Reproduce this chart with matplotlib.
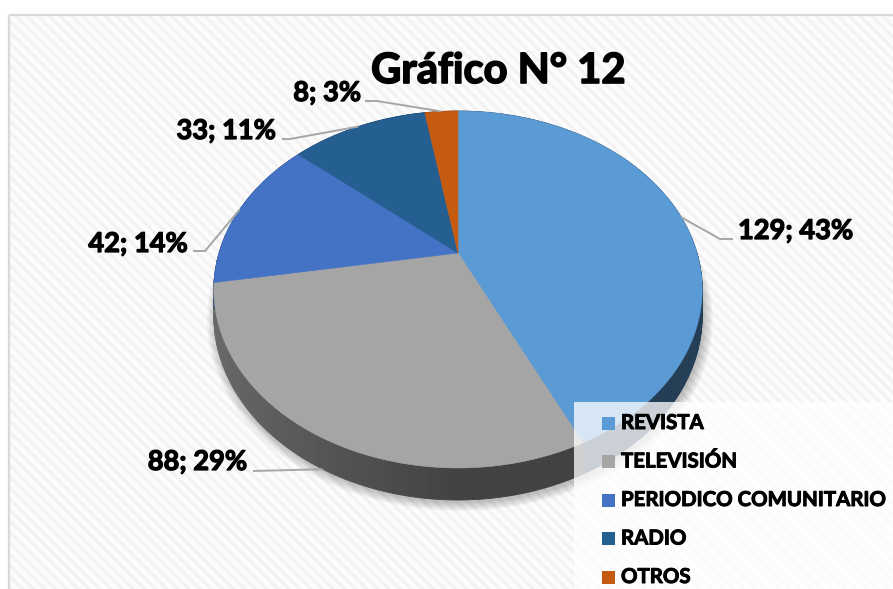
"""
Grafico N 12 - 3D pie of media preference counts, drawn in pixel space.
"""

import matplotlib
matplotlib.use("Agg")
import matplotlib.pyplot as plt
import matplotlib.patheffects as pe
import numpy as np
from matplotlib.patches import Polygon, Rectangle
from matplotlib.colors import to_rgb

# ---- data ------------------------------------------------------------------
CATEGORIES = ["REVISTA", "TELEVISIÓN", "PERIODICO COMUNITARIO", "RADIO", "OTROS"]
COUNTS     = [129, 88, 42, 33, 8]
COLORS     = ["#5b9bd5", "#a5a5a5", "#4472c4", "#255e91", "#c55a11"]
TITLE      = "Gráfico N° 12"

# ---- layout (pixels, y down) ----------------------------------------------
W, H = 893, 589
CX, CY = 458, 253          # projected pie centre
A, B, K = 239, 171, 0.2045  # horizontal radius, depth radius, perspective
THICK = 25.5
# label anchor (x, baseline y, ha), leader elbow, leader end, rim depth
LABEL_POS = [(738, 239, "left"), (247, 470, "right"), (188, 252, "right"),
             (276, 139, "right"), (361, 101, "right")]
ELBOWS = [(720, 239), (253, 471), (205, 251), (290, 139), (377, 101)]
LEAD_END = [(733, 239), (253, 471), (193, 251), (282, 139), (365, 101)]
RIM_DEPTH = [0, 1, 0, 0, 0]

plt.rcParams.update({
    "font.family": ["Lato", "DejaVu Sans"],
    "hatch.linewidth": 2.2,
})

BOLDER = [pe.withStroke(linewidth=0.9, foreground="black")]


def proj(theta, depth=0.0):
    x, z = np.sin(theta), np.cos(theta)
    w = 1 + K * z
    return CX + A * x / w, CY - B * z / w + depth * THICK / w


def shade(color, f):
    r, g, b = to_rgb(color)
    return (r * f, g * f, b * f)


def main():
    fig = plt.figure(figsize=(W / 100, H / 100), dpi=100)
    ax = fig.add_axes([0, 0, 1, 1])
    ax.set_xlim(0, W)
    ax.set_ylim(H, 0)
    ax.axis("off")

    # chart area with diagonal stripes
    ax.add_patch(Rectangle((8.5, 14.5), W, H, facecolor="#fcfcfc",
                           edgecolor="none", zorder=0))
    ax.add_patch(Rectangle((8.5, 14.5), W, H, facecolor="none",
                           edgecolor="#f2f2f2", linewidth=0, hatch="\\\\\\",
                           zorder=0.5))
    ax.add_patch(Rectangle((8.5, 14.5), W, H, facecolor="none",
                           edgecolor="#d9d9d9", linewidth=1.6, zorder=0.6))

    total = sum(COUNTS)
    frac = np.array(COUNTS) / total
    edges = np.concatenate([[0], np.cumsum(frac)]) * 2 * np.pi

    # soft shadow under the pie
    t = np.linspace(0, 2 * np.pi, 300)
    bx, by = proj(t, 1.0)
    for i in range(7):
        s = 1 + 0.006 * i
        ax.add_patch(Polygon(np.column_stack([CX + (bx - CX) * s + 2,
                                              CY + THICK + (by - CY - THICK) * s + 3]),
                             facecolor="black", edgecolor="none", alpha=0.035,
                             zorder=1))

    # side walls
    for i, col in enumerate(COLORS):
        ts = np.linspace(edges[i], edges[i + 1], max(3, int(frac[i] * 360)))
        for a0, a1 in zip(ts[:-1], ts[1:]):
            am = 0.5 * (a0 + a1)
            f = 0.40 + 0.25 * max(0.0, -np.sin(am))
            x0, y0 = proj(a0)
            x1, y1 = proj(a1)
            x2, y2 = proj(a1, 1.0)
            x3, y3 = proj(a0, 1.0)
            c = shade(col, f)
            ax.add_patch(Polygon([(x0, y0), (x1, y1), (x2, y2), (x3, y3)],
                                 facecolor=c, edgecolor=c, linewidth=0.6,
                                 zorder=2))

    # top faces
    for i, col in enumerate(COLORS):
        ts = np.linspace(edges[i], edges[i + 1], max(3, int(frac[i] * 720)))
        xs, ys = proj(ts)
        pts = np.column_stack([np.r_[CX, xs], np.r_[CY, ys]])
        ax.add_patch(Polygon(pts, facecolor=col, edgecolor=col, linewidth=0.4,
                             zorder=3))

    # data labels with leader lines
    for i, v in enumerate(COUNTS):
        mid = 0.5 * (edges[i] + edges[i + 1])
        rx, ry = proj(mid, RIM_DEPTH[i])
        ex, ey = ELBOWS[i]
        lx, ly = LEAD_END[i]
        ax.plot([rx, ex, lx], [ry, ey, ly], color="#a6a6a6", lw=1.4,
                solid_capstyle="butt", zorder=4)
        x, y, ha = LABEL_POS[i]
        ax.text(x, y, f"{v}; {round(100 * v / total)}%", ha=ha, va="baseline",
                fontsize=19.6, fontweight="bold", color="black", zorder=5,
                path_effects=BOLDER)

    ax.text(498, 83, TITLE, ha="center", va="baseline", fontsize=30,
            fontweight="bold", color="black", zorder=5,
            path_effects=[pe.withStroke(linewidth=1.2, foreground="black")])

    # legend box
    ax.add_patch(Rectangle((574, 402), W, H, facecolor="white",
                           edgecolor="none", alpha=0.76, zorder=6))
    for i, (name, col) in enumerate(zip(CATEGORIES, COLORS)):
        yc = 423 + i * 38.5
        ax.add_patch(Rectangle((602, yc - 6.5), 13, 13, facecolor=col,
                               edgecolor="none", zorder=7))
        ax.text(621, yc, name, ha="left", va="center", fontsize=14.7,
                fontweight="bold", color="black", zorder=7,
                path_effects=[pe.withStroke(linewidth=0.7, foreground="black")])

    fig.savefig("out.png", dpi=100)
    plt.close(fig)


if __name__ == "__main__":
    main()
